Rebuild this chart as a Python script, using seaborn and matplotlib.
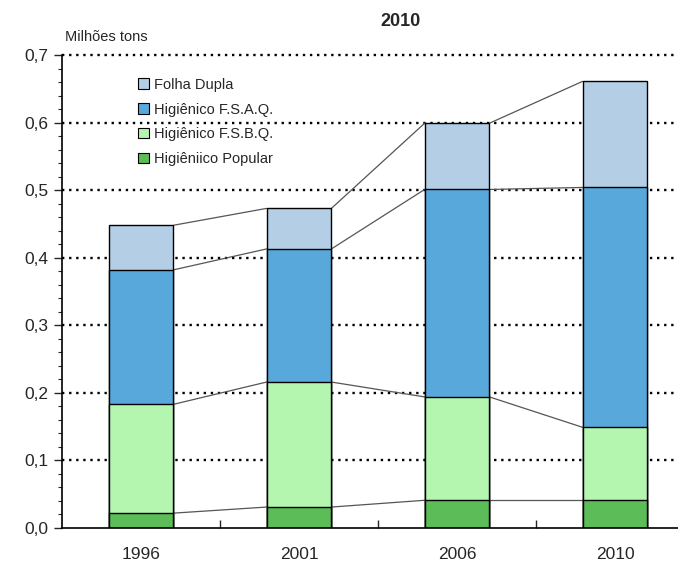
import numpy as np
import pandas as pd
import matplotlib
matplotlib.use("Agg")
import matplotlib.pyplot as plt
import matplotlib.ticker as mticker
import seaborn as sns

# values (million tons)
years = ["1996", "2001", "2006", "2010"]
series = ["Higiêniico Popular", "Higiênico F.S.B.Q.", "Higiênico F.S.A.Q.", "Folha Dupla"]
popular = [0.022, 0.031, 0.041, 0.041]
fsbq = [0.161, 0.185, 0.153, 0.108]
fsaq = [0.199, 0.197, 0.307, 0.355]
dupla = [0.066, 0.060, 0.098, 0.157]
colors = ["#5cbd58", "#b4f5b0", "#58a8dc", "#b3cee5"]

df = pd.DataFrame({"ano": years, series[0]: popular, series[1]: fsbq,
                   series[2]: fsaq, series[3]: dupla})
cum = df[series].cumsum(axis=1)

sns.set_style("white")
plt.rcParams["font.family"] = ["Liberation Sans", "DejaVu Sans"]

fig = plt.figure(figsize=(6.78, 5.63), dpi=100)
ax = fig.add_axes([62 / 678, 35 / 563, 632 / 678, 473 / 563])

bw = 0.41
# gridlines behind bars
for v in np.arange(0.1, 0.71, 0.1):
    ax.axhline(v, color="black", linestyle=(0, (1, 2)), linewidth=1.7, zorder=0, clip_on=False)

# stacked bars: draw cumulative totals from top layer down
for s, c in zip(series[::-1], colors[::-1]):
    sns.barplot(x=df["ano"], y=cum[s], color=c, saturation=1, width=bw,
                edgecolor="black", linewidth=1.0, ax=ax, zorder=2, label=s)

# connector lines between bar tops
for s in series:
    vals = cum[s].values
    for i in range(len(years) - 1):
        ax.plot([i + bw / 2, i + 1 - bw / 2], [vals[i], vals[i + 1]],
                color="#555555", linewidth=0.9, zorder=1)

ax.set_xlim(-0.5, len(years) - 0.5)
ax.set_ylim(0, 0.7)
ax.set_xlabel("")
ax.set_ylabel("")

ax.yaxis.set_major_locator(mticker.MultipleLocator(0.1))
ax.yaxis.set_minor_locator(mticker.MultipleLocator(0.02))
ax.yaxis.set_major_formatter(mticker.FuncFormatter(lambda v, p: f"{v:.1f}".replace(".", ",")))
ax.tick_params(axis="y", which="major", length=6, width=1, labelsize=12.5, direction="out", left=True)
ax.tick_params(axis="y", which="minor", length=3, width=0.8, direction="out", left=True)

ax.set_xticks(np.arange(len(years)), labels=years, minor=True)
ax.set_xticks(np.arange(0.5, len(years) - 0.5, 1.0), labels=[])
ax.tick_params(axis="x", which="major", length=6, width=1, direction="in", bottom=True)
ax.tick_params(axis="x", which="minor", length=0, labelsize=12.5, pad=14)

for sp in ["top", "right"]:
    ax.spines[sp].set_visible(False)
for sp in ["left", "bottom"]:
    ax.spines[sp].set_color("black")
    ax.spines[sp].set_linewidth(1.2)

handles, labels = ax.get_legend_handles_labels()
leg = ax.legend(handles, labels, loc="upper left", bbox_to_anchor=(0.1, 0.98),
                frameon=False, fontsize=10.5, handlelength=0.7, handleheight=0.7,
                handletextpad=0.4, labelspacing=0.75)
for h in leg.legend_handles:
    h.set_edgecolor("black")
    h.set_linewidth(0.8)

fig.text(65 / 678, 1 - 37 / 563, "Milhões tons", fontsize=10.5, va="center", ha="left")
fig.text(401 / 678, 1 - 22 / 563, "2010", fontsize=13, fontweight="bold", va="center", ha="center")

fig.savefig("out.png", dpi=100)
